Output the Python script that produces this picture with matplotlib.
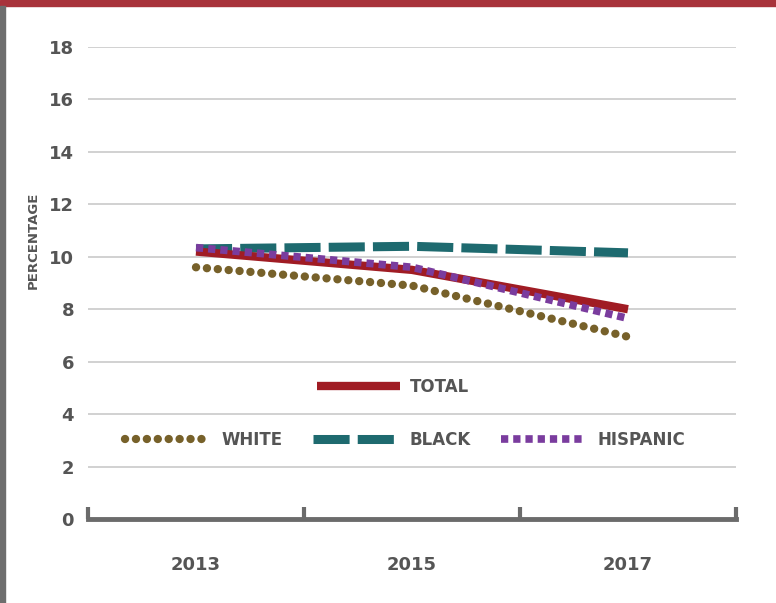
import matplotlib
matplotlib.use("Agg")
import matplotlib.pyplot as plt
from matplotlib.patches import Rectangle

plt.rcParams['font.family'] = ['Liberation Sans Narrow', 'DejaVu Sans']

years = ["2013", "2015", "2017"]
totalPct = [10.2, 9.5, 8.0]
whitePct = [9.6, 8.9, 6.95]
blackPct = [10.3, 10.4, 10.15]
hispanicPct = [10.35, 9.6, 7.65]

textColor = "#555555"
axisGray = "#6b6b6b"

fig = plt.figure(figsize=(7.76, 6.03), dpi=100)
ax = fig.add_axes([88 / 776, 1 - 519 / 603, (736 - 88) / 776, (519 - 47) / 603])

xPos = [0.5, 1.5, 2.5]

# series
ax.plot(xPos, totalPct, color="#a01c24", lw=6, solid_capstyle="butt", zorder=3, label="TOTAL")
ax.plot(xPos, whitePct, color="#77612a", lw=6, linestyle=(0, (0.01, 1.3)),
        dash_capstyle="round", zorder=3, label="WHITE")
ax.plot(xPos, blackPct, color="#1e6a6f", lw=6.5, linestyle=(0, (4.0, 0.9)),
        dash_capstyle="butt", zorder=2, label="BLACK")
ax.plot(xPos, hispanicPct, color="#7a3c9e", lw=5.5, linestyle=(0, (0.95, 0.65)),
        dash_capstyle="butt", zorder=4, label="HISPANIC")

ax.set_xlim(0, 3)
ax.set_ylim(0, 18)
ax.set_yticks(range(0, 19, 2))
ax.grid(axis="y", color="#c9c9c9", lw=1.2)
ax.set_axisbelow(True)
for side in ["top", "right", "left"]:
    ax.spines[side].set_visible(False)
ax.spines["bottom"].set_color(axisGray)
ax.spines["bottom"].set_linewidth(3.5)
ax.spines["bottom"].set_capstyle("projecting")

ax.set_xticks([0, 1, 2, 3])
ax.set_xticklabels([])
ax.tick_params(axis="x", which="major", direction="in", length=9, width=3, color=axisGray)
ax.set_xticks(xPos, minor=True)
ax.set_xticklabels(years, minor=True)
ax.tick_params(axis="x", which="minor", length=0, pad=27, labelsize=13, labelcolor=textColor)
ax.tick_params(axis="y", length=0, pad=10, labelsize=13, labelcolor=textColor)
for lbl in ax.get_xticklabels(minor=True) + ax.get_yticklabels():
    lbl.set_fontweight("bold")

fig.text(33 / 776, 1 - 240 / 603, "PERCENTAGE", rotation=90, ha="center", va="center",
         fontsize=9.5, fontweight="bold", color=textColor)

# legends
handles, labels = ax.get_legend_handles_labels()
leg1 = fig.legend([handles[0]], [labels[0]], loc="center",
                  bbox_to_anchor=(393 / 776, 1 - 387 / 603), frameon=False,
                  handlelength=5.0, handletextpad=0.55, prop={"size": 12, "weight": "bold"})
for t in leg1.get_texts():
    t.set_color(textColor)
leg2 = fig.legend(handles[1:], labels[1:], loc="center", ncol=3,
                  bbox_to_anchor=(405 / 776, 1 - 440 / 603), frameon=False,
                  handlelength=5.0, handletextpad=0.8, columnspacing=1.8,
                  prop={"size": 12, "weight": "bold"})
for t in leg2.get_texts():
    t.set_color(textColor)

# frame decorations
fig.patches.append(Rectangle((0, 1 - 6 / 603), 1, 6 / 603, transform=fig.transFigure,
                             color="#a8333b", zorder=10))
fig.patches.append(Rectangle((0, 0), 5 / 776, 1 - 6 / 603, transform=fig.transFigure,
                             color="#6e6e6e", zorder=10))

fig.savefig("out.png", dpi=100)
